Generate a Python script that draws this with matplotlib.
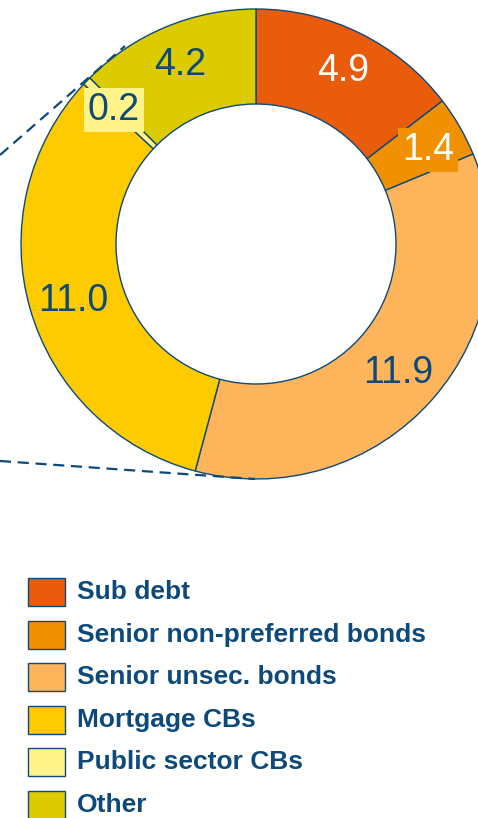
import matplotlib
matplotlib.use("Agg")
import matplotlib.pyplot as plt
from matplotlib.patches import Rectangle

categories = ["Sub debt", "Senior non-preferred bonds", "Senior unsec. bonds",
              "Mortgage CBs", "Public sector CBs", "Other"]
values = [4.9, 1.4, 11.9, 11.0, 0.2, 4.2]
labels = ["4.9", "1.4", "11.9", "11.0", "0.2", "4.2"]
colors = ["#E95C0C", "#F29100", "#FDB45A", "#FDCB00", "#FFF38A", "#DCCB00"]
label_colors = ["white", "white", "#0D4A7A", "#0D4A7A", "#0D4A7A", "#0D4A7A"]

W, H = 478, 818
DARK = "#0D4A7A"
plt.rcParams['font.family'] = ['Liberation Sans', 'DejaVu Sans']

fig = plt.figure(figsize=(W / 100, H / 100), dpi=100)
ax = fig.add_axes([0, 0, 1, 1])

cx, cy, R = 256, H - 244, 235
ring = 95 / R
wedges, _ = ax.pie(values, colors=colors, startangle=90, counterclock=False,
                   center=(cx, cy), radius=R,
                   wedgeprops=dict(width=R * ring, edgecolor=DARK, linewidth=1.0))
for w in wedges:
    w.set_clip_on(False)

ax.set_xlim(0, W)
ax.set_ylim(0, H)
ax.set_aspect('equal')
ax.axis('off')

# label positions (pixel coords, y from top)
lab_pos = [(343, 71), (428, 150), (398, 373), (73, 301), (114, 110), (180, 65)]
bbox_map = {1: "#F29100", 4: "#FFF38A"}
for i, (lx, ly) in enumerate(lab_pos):
    kw = {}
    if i in bbox_map:
        kw['bbox'] = dict(boxstyle='square,pad=0.1', facecolor=bbox_map[i], edgecolor='none')
    ax.text(lx, H - ly, labels[i], ha='center', va='center', fontsize=27,
            color=label_colors[i], **kw)

# dashed connector lines
ax.plot([0, 125], [H - 155, H - 46], ls=(0, (5, 3)), color=DARK, lw=1.6)
ax.plot([0, 255], [H - 461, H - 479], ls=(0, (5, 3)), color=DARK, lw=1.6)

# legend
y0 = 592
dy = 42.6
for i, cat in enumerate(categories):
    yc = H - (y0 + i * dy)
    ax.add_patch(Rectangle((28, yc - 14), 37, 28, facecolor=colors[i],
                           edgecolor=DARK, linewidth=1.0))
    ax.text(77, yc, cat, ha='left', va='center', fontsize=19,
            fontweight='bold', color=DARK)

fig.savefig("out.png", dpi=100)
